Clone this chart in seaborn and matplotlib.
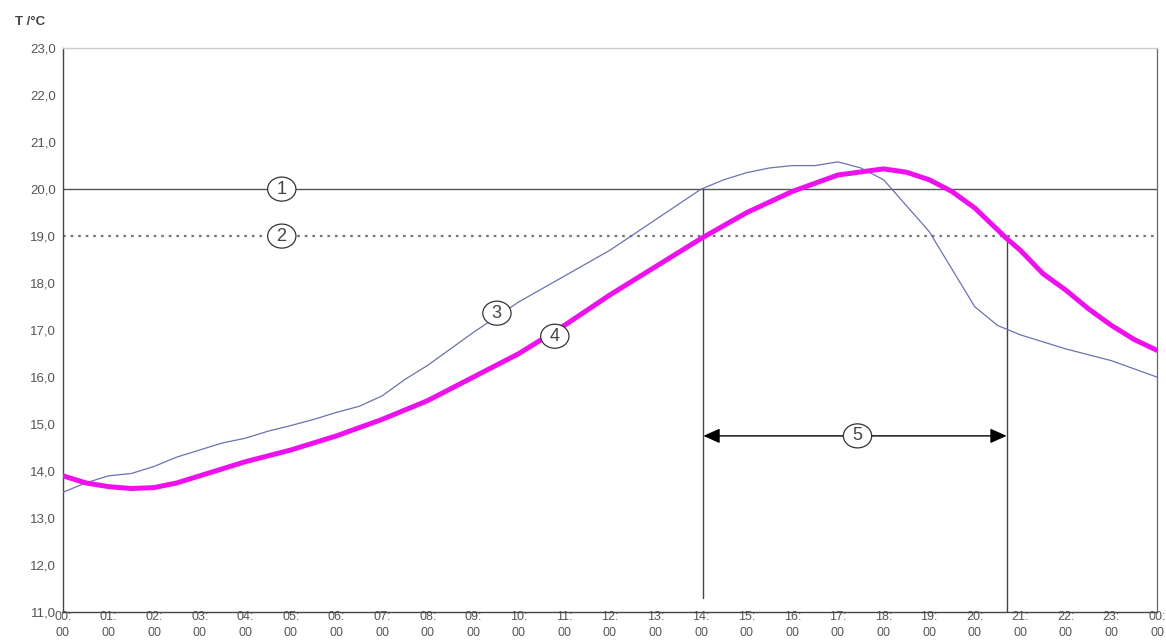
import pandas as pd
import matplotlib
matplotlib.use('Agg')
import matplotlib.pyplot as plt
import seaborn as sns

# measured room temperature (3) and simulated / operative temperature (4)
t_blue = [0, 0.5, 1, 1.5, 2, 2.5, 3, 3.5, 4, 4.5, 5, 5.5, 6, 6.5, 7, 7.5, 8, 9, 10, 11, 12, 13, 14,
          14.5, 15, 15.5, 16, 16.5, 17, 17.5, 18, 18.5, 19, 19.5, 20, 20.5, 21, 22, 23, 24]
T_blue = [13.55, 13.75, 13.9, 13.95, 14.1, 14.3, 14.45, 14.6, 14.7, 14.85, 14.97, 15.1, 15.25, 15.38,
          15.6, 15.95, 16.25, 16.95, 17.6, 18.15, 18.7, 19.35, 20.0, 20.2, 20.35, 20.45, 20.5, 20.5,
          20.58, 20.45, 20.2, 19.65, 19.1, 18.3, 17.5, 17.1, 16.9, 16.6, 16.35, 16.0]

t_mag = [0, 0.5, 1, 1.5, 2, 2.5, 3, 4, 5, 6, 7, 8, 9, 10, 11, 12, 13, 14, 15, 16, 17, 18, 18.5,
         19, 19.5, 20, 20.7, 21, 21.5, 22, 22.5, 23, 23.5, 24]
T_mag = [13.9, 13.75, 13.67, 13.63, 13.65, 13.75, 13.9, 14.2, 14.45, 14.75, 15.1, 15.5, 16.0, 16.5,
         17.1, 17.75, 18.35, 18.95, 19.5, 19.95, 20.3, 20.43, 20.36, 20.2, 19.95, 19.6, 18.95, 18.7,
         18.2, 17.85, 17.45, 17.1, 16.8, 16.57]

limit_1 = 20.0
limit_2 = 19.0
t_start = 14.05
t_end = 20.7
arrow_T = 14.75

hours = list(range(25))
hour_labels = ['%02d:\n00' % (h % 24) for h in hours]
y_ticks = [11 + i for i in range(13)]
y_labels = [('%.1f' % v).replace('.', ',') for v in y_ticks]

sns.set_style('white')
plt.rcParams['font.family'] = ['Liberation Sans', 'DejaVu Sans']

df_b = pd.DataFrame({'t': t_blue, 'T': T_blue})
df_m = pd.DataFrame({'t': t_mag, 'T': T_mag})

fig = plt.figure(figsize=(11.66, 6.41), dpi=100)
ax = fig.add_axes([0.054, 0.045, 0.9383, 0.88])

ax.axhline(limit_1, color='#555555', lw=1.0, zorder=1)
ax.axhline(limit_2, color='#777777', lw=1.6, ls=(0, (1.2, 2.2)), zorder=1)

sns.lineplot(data=df_b, x='t', y='T', color='#6a72b0', lw=0.9, ax=ax, zorder=3)
sns.lineplot(data=df_m, x='t', y='T', color='#ee11ee', lw=3.6, ax=ax, zorder=4,
             solid_joinstyle='round', solid_capstyle='round')

ax.plot([t_start, t_start], [11.3, limit_1], color='#444444', lw=1.0, zorder=2)
ax.plot([t_end, t_end], [11.0, limit_2], color='#444444', lw=1.0, zorder=2)

ax.annotate('', xy=(t_start, arrow_T), xytext=(t_end, arrow_T),
            arrowprops=dict(arrowstyle='<|-|>,head_length=1.0,head_width=0.45',
                            color='black', lw=1.0, shrinkA=0, shrinkB=0), zorder=5)

circ = dict(boxstyle='ellipse,pad=0.0', fc='white', ec='#333333', lw=0.9)
for txt, x, y in [('1', 4.8, limit_1), ('2', 4.8, limit_2), ('3', 9.52, 17.36),
                  ('4', 10.79, 16.87), ('5', 17.43, arrow_T)]:
    ax.text(x, y, ' ' + txt + ' ', ha='center', va='center', fontsize=13, color='#444444',
            bbox=circ, zorder=6)

ax.set_xlim(0, 24)
ax.set_ylim(11, 23)
ax.set_xticks(hours)
ax.set_xticklabels(hour_labels, fontsize=9, color='#555555', linespacing=1.45)
ax.set_yticks(y_ticks)
ax.set_yticklabels(y_labels, fontsize=9.5, color='#555555')
ax.tick_params(axis='both', direction='inout', length=6, width=0.8, color='#444444', pad=2)
ax.tick_params(axis='x', pad=-4)
ax.set_xlabel('')
ax.set_ylabel('')

for side in ['left', 'bottom']:
    ax.spines[side].set_color('#444444')
    ax.spines[side].set_linewidth(1.0)
ax.spines['right'].set_color('#666666')
ax.spines['right'].set_linewidth(0.9)
ax.spines['top'].set_color('#cccccc')
ax.spines['top'].set_linewidth(1.0)

fig.text(0.013, 0.965, 'T /°C', fontsize=9.5, fontweight='bold', color='#444444', va='center')

fig.savefig('out.png', dpi=100)
